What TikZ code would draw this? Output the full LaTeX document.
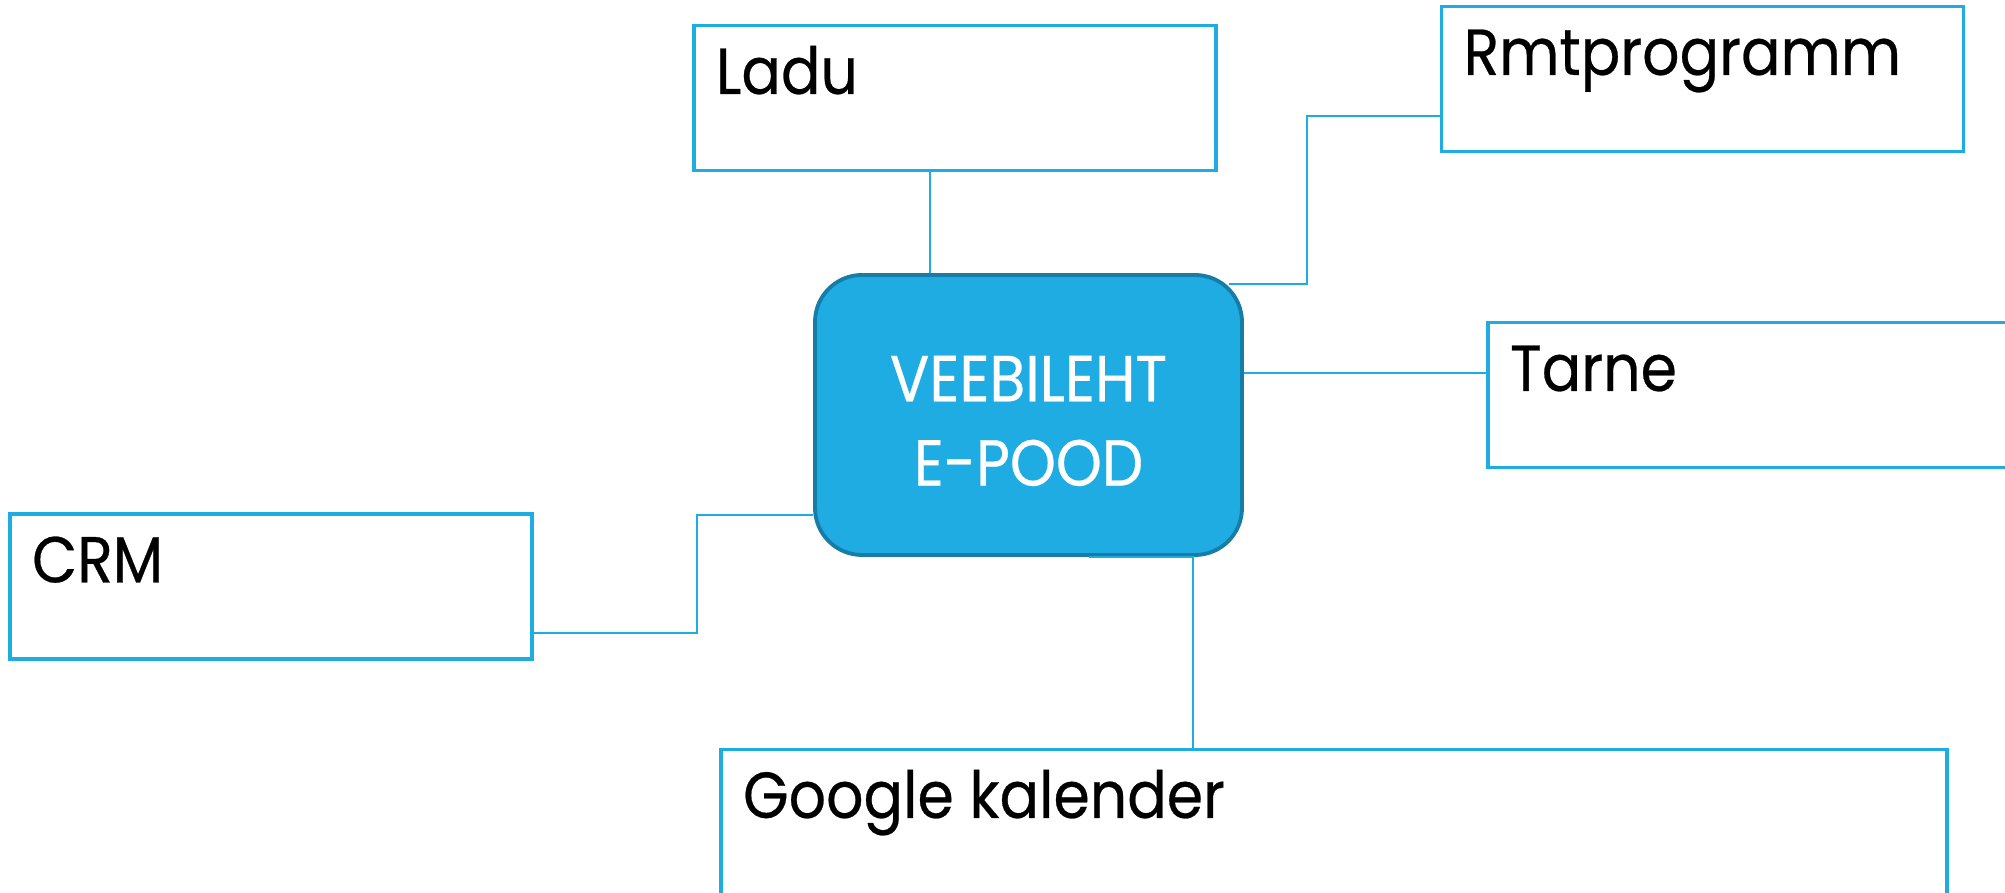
\documentclass[tikz,border=0pt]{standalone}
\usepackage{fontspec}
\setmainfont{Poppins}[FakeStretch=0.9, FakeBold=0.4]
\usepackage{xcolor}
\definecolor{boxblue}{RGB}{30,172,226}
\definecolor{hubfill}{RGB}{31,172,227}
\definecolor{hubedge}{RGB}{22,126,166}

\begin{document}
\begin{tikzpicture}[
    item/.style={rectangle, draw=boxblue, line width=0.9pt, minimum width=5.22cm, minimum height=1.45cm, inner sep=0pt},
    itemtext/.style={anchor=base west, inner sep=0pt, xshift=2.3mm, yshift=-7mm, font=\fontsize{18.5}{22}\selectfont, text=black},
    hub/.style={rectangle, rounded corners=4.7mm, draw=hubedge, line width=1.1pt, fill=hubfill, minimum width=4.27cm, minimum height=2.8cm},
    hubtext/.style={text=white, align=center, inner sep=0pt, yshift=-0.6mm, font=\fontsize{18.5}{24}\selectfont},
    link/.style={draw=boxblue, line width=0.6pt}
]
\useasboundingbox (0,0) rectangle (20.05,8.93);
\clip (0,0) rectangle (20.05,8.93);

% Central node
\node[hub, label={[hubtext]center:VEEBILEHT\\E-POOD}] (hub) at (10.285,4.78) {};

% Surrounding boxes
\node[item, label={[itemtext]north west:Ladu}] (ladu) at (9.55,7.95) {};
\node[item, label={[itemtext]north west:Rmtprogramm}] (rmt) at (17.025,8.14) {};
\node[item, label={[itemtext]north west:Tarne}] (tarne) at (17.49,4.98) {};
\node[item, label={[itemtext]north west:CRM}] (crm) at (2.71,3.065) {};
\node[item, minimum width=12.26cm, label={[itemtext]north west:Google kalender}] (google) at (13.34,0.71) {};

% Connectors
\draw[link] ([xshift=-2.5mm]ladu.south) -- ([xshift=-2.5mm]ladu.south |- hub.north);
\draw[link] ([yshift=-3.7mm]rmt.west) -- ++(-1.33,0) |- ([shift={(-1.5mm,-1.1mm)}]hub.north east);
\draw[link] ([yshift=4.2mm]hub.east) -- ([yshift=4.2mm]hub.east -| tarne.west);
\draw[link] ([yshift=-4.65mm]crm.east) -- ++(1.63,0) |- ([yshift=-10mm]hub.west);
\draw[link] ([xshift=6mm]hub.south) -| ([xshift=-14.1mm]google.north);

\end{tikzpicture}
\end{document}
